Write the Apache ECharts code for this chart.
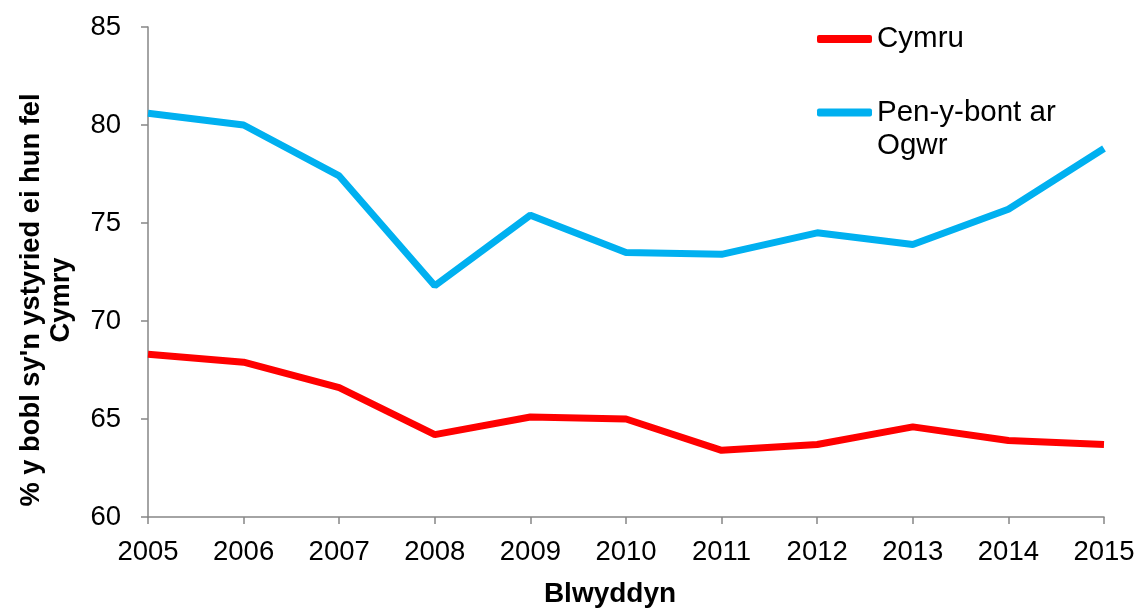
<!DOCTYPE html>
<html>
<head>
<meta charset="utf-8">
<script src="https://cdn.jsdelivr.net/npm/echarts@6/dist/echarts.min.js"></script>
<style>html,body{margin:0;padding:0;background:#fff}#c{width:1138px;height:608px}</style>
</head>
<body>
<div id="c"></div>
<script>
const years = ['2005','2006','2007','2008','2009','2010','2011','2012','2013','2014','2015'];
const cymru = [68.3, 67.9, 66.6, 64.2, 65.1, 65.0, 63.4, 63.7, 64.6, 63.9, 63.7];
const penybont = [80.6, 80.0, 77.4, 71.8, 75.4, 73.5, 73.4, 74.5, 73.9, 75.7, 78.8];
const seriesNames = ['Cymru', 'Pen-y-bont ar Ogwr'];
const yTitle = "% y bobl sy'n ystyried ei hun fel\nCymry";
const xTitle = 'Blwyddyn';

const FONT = '"Liberation Sans", Arial, sans-serif';
const axisColor = '#868686';
const chart = echarts.init(document.getElementById('c'), null, {renderer: 'canvas'});
chart.setOption({
  animation: false,
  grid: {left: 148, right: 34, top: 27, bottom: 91, containLabel: false, outerBoundsMode: 'none'},
  legend: [
    {
      data: [seriesNames[0]], left: 812, top: 19, itemWidth: 55, itemHeight: 8,
      itemGap: 5, icon: 'roundRect', padding: 5,
      textStyle: {fontFamily: FONT, fontSize: 29.5, color: '#000'}
    },
    {
      data: [seriesNames[1]], left: 812, top: 58, itemWidth: 55, itemHeight: 8,
      itemGap: 5, icon: 'roundRect', padding: 5,
      formatter: () => '\nPen-y-bont ar\nOgwr',
      textStyle: {fontFamily: FONT, fontSize: 29.5, color: '#000', lineHeight: 33}
    }
  ],
  xAxis: {
    type: 'category', data: years, boundaryGap: false,
    name: xTitle, nameLocation: 'middle', nameGap: 63,
    nameTextStyle: {fontFamily: FONT, fontSize: 28, fontWeight: 'bold', color: '#000', padding: [0, 32, 0, 0]},
    axisLine: {lineStyle: {color: axisColor, width: 1.5}},
    axisTick: {show: true, length: 7, alignWithLabel: true, lineStyle: {color: axisColor, width: 1.5}},
    axisLabel: {fontFamily: FONT, fontSize: 27.5, color: '#000', margin: 21},
    splitLine: {show: false}
  },
  yAxis: {
    type: 'value', min: 60, max: 85, interval: 5,
    name: yTitle, nameLocation: 'middle', nameGap: 72, nameRotate: 90,
    nameTextStyle: {fontFamily: FONT, fontSize: 27.3, fontWeight: 'bold', color: '#000', lineHeight: 30, padding: [0, 56, 0, 0]},
    axisLine: {show: true, lineStyle: {color: axisColor, width: 1.5}},
    axisTick: {show: true, length: 7, lineStyle: {color: axisColor, width: 1.5}},
    axisLabel: {fontFamily: FONT, fontSize: 27.5, color: '#000', margin: 27},
    splitLine: {show: false}
  },
  series: [
    {name: seriesNames[0], type: 'line', data: cymru, symbol: 'none', color: '#FF0000',
     lineStyle: {width: 7, color: '#FF0000'}, itemStyle: {color: '#FF0000'}},
    {name: seriesNames[1], type: 'line', data: penybont, symbol: 'none', color: '#00B0F0',
     lineStyle: {width: 7, color: '#00B0F0'}, itemStyle: {color: '#00B0F0'}}
  ]
});
</script>
</body>
</html>
